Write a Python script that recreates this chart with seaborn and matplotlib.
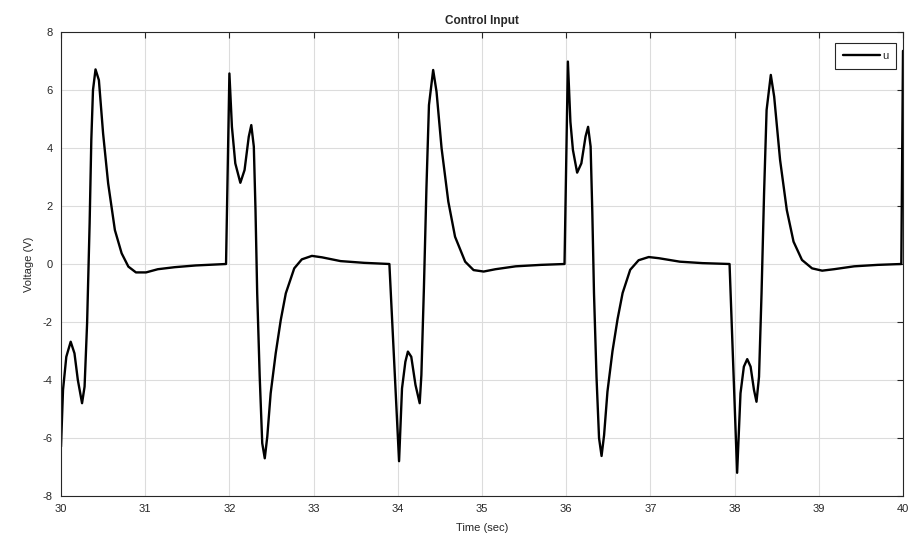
import pandas as pd
import numpy as np
import matplotlib
matplotlib.use('Agg')
import matplotlib.pyplot as plt
import seaborn as sns

# Control input samples
time_sec = [30.00, 30.024, 30.063, 30.115, 30.16, 30.20, 30.25, 30.28, 30.31, 30.34, 30.36,
            30.38, 30.41, 30.45, 30.50, 30.56, 30.64, 30.72, 30.80, 30.89, 31.01, 31.15,
            31.35, 31.60, 31.96,
            32.00, 32.03, 32.07, 32.13, 32.18, 32.23, 32.26, 32.29, 32.31, 32.33, 32.36,
            32.39, 32.42, 32.45, 32.49, 32.55, 32.61, 32.67, 32.77, 32.86, 32.98, 33.10,
            33.32, 33.60, 33.90,
            34.015, 34.05, 34.09, 34.12, 34.16, 34.21, 34.26, 34.28, 34.31, 34.34, 34.37,
            34.42, 34.46, 34.52, 34.60, 34.68, 34.80, 34.90, 35.02, 35.16, 35.40, 35.70,
            35.98,
            36.02, 36.05, 36.08, 36.13, 36.18, 36.23, 36.26, 36.29, 36.31, 36.33, 36.36,
            36.39, 36.42, 36.45, 36.49, 36.55, 36.61, 36.67, 36.76, 36.86, 36.98, 37.10,
            37.35, 37.62, 37.94,
            38.03, 38.07, 38.11, 38.15, 38.19, 38.23, 38.26, 38.29, 38.32, 38.35, 38.38,
            38.43, 38.47, 38.54, 38.62, 38.70, 38.80, 38.92, 39.04, 39.18, 39.42, 39.70,
            39.98, 40.00]
voltage = [-6.3, -4.34, -3.2, -2.68, -3.08, -4.0, -4.8, -4.23, -2.04, 1.4, 4.28,
           6.0, 6.71, 6.34, 4.5, 2.78, 1.17, 0.37, -0.09, -0.29, -0.29, -0.18,
           -0.11, -0.05, 0.0,
           6.57, 4.73, 3.47, 2.8, 3.24, 4.39, 4.79, 4.05, 1.86, -1.0, -3.89,
           -6.18, -6.7, -5.95, -4.46, -3.08, -1.93, -1.01, -0.15, 0.16, 0.28, 0.23,
           0.1, 0.04, 0.0,
           -6.8, -4.29, -3.37, -3.02, -3.2, -4.17, -4.8, -3.83, -0.84, 2.61, 5.48,
           6.69, 5.94, 3.99, 2.15, 0.94, 0.08, -0.21, -0.26, -0.18, -0.08, -0.03,
           0.0,
           6.98, 4.9, 3.93, 3.15, 3.47, 4.4, 4.73, 4.05, 1.8, -1.0, -3.9,
           -6.0, -6.62, -5.9, -4.4, -3.0, -1.9, -1.0, -0.2, 0.13, 0.24, 0.2,
           0.08, 0.03, 0.0,
           -7.2, -4.46, -3.54, -3.28, -3.54, -4.34, -4.75, -3.89, -1.01, 2.44, 5.31,
           6.52, 5.77, 3.59, 1.86, 0.77, 0.14, -0.15, -0.23, -0.18, -0.08, -0.03,
           0.0, 7.35]

df = pd.DataFrame({'Time': time_sec, 'u': voltage})

sns.set_style('whitegrid')
plt.rcParams['font.family'] = ['Liberation Sans', 'DejaVu Sans']
plt.rcParams['axes.unicode_minus'] = False

fig = plt.figure(figsize=(9.17, 5.52), dpi=100)
ax = fig.add_axes([61 / 917, 1 - 496 / 552, 842 / 917, 464 / 552])

sns.lineplot(data=df, x='Time', y='u', sort=False, estimator=None,
             color='black', linewidth=1.7, label='u', ax=ax,
             solid_joinstyle='round', solid_capstyle='round')

ax.set_xlim(30, 40)
ax.set_ylim(-8, 8)
ax.set_xticks(range(30, 41))
ax.set_yticks(range(-8, 9, 2))
ax.grid(True, color='#dcdcdc', linewidth=0.8)
for s in ax.spines.values():
    s.set_color('#262626')
    s.set_linewidth(0.8)
ax.tick_params(direction='in', length=4, width=0.8, color='#262626',
               top=True, right=True, labelsize=8, labelcolor='#262626', pad=6)

ax.set_title('Control Input', fontsize=8.5, fontweight='bold', pad=6)
ax.set_xlabel('Time (sec)', fontsize=8, color='#262626', labelpad=6)
ax.set_ylabel('Voltage (V)', fontsize=8, color='#262626', labelpad=6)

leg = ax.legend(loc='upper right', fontsize=8, fancybox=False, framealpha=1,
                edgecolor='#262626', handlelength=3.3, borderaxespad=0,
                bbox_to_anchor=(896 / 917, 1 - 43 / 552), bbox_transform=fig.transFigure,
                borderpad=0.7, handletextpad=0.2)
leg.get_frame().set_linewidth(0.8)

plt.savefig('out.png', dpi=100)
